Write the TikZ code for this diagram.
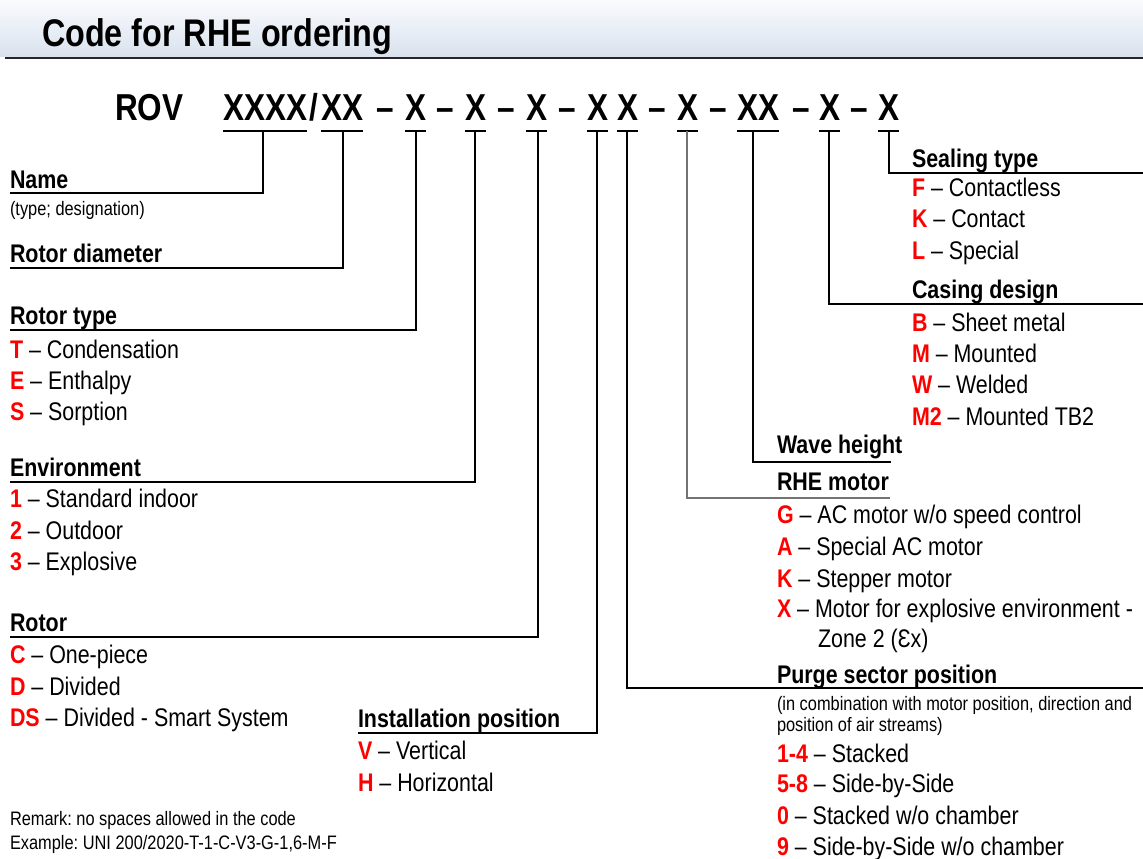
\documentclass[tikz,border=0pt]{standalone}
\usepackage{fontspec}
\setmainfont{Liberation Sans}[FakeStretch=0.84]
\frenchspacing
\definecolor{codered}{RGB}{255,0,0}
\definecolor{hdtop}{RGB}{250,251,253}
\definecolor{hdbot}{RGB}{216,226,238}
\newcommand{\redc}[1]{\textcolor{codered}{\bfseries #1}}
\tikzset{
 txt/.style={anchor=base west, inner sep=0pt, outer sep=0pt, font=\frenchspacing\fontsize{25.5}{30}\selectfont},
 head/.style={anchor=base west, inner sep=0pt, outer sep=0pt, font=\bfseries\fontsize{25.5}{30}\selectfont},
 small/.style={anchor=base west, inner sep=0pt, outer sep=0pt, font=\frenchspacing\fontsize{19.5}{23}\selectfont},
 codech/.style={anchor=base west, inner sep=0pt, outer sep=0pt, font=\bfseries\fontsize{37.5}{44}\selectfont},
 titletxt/.style={anchor=base west, inner sep=0pt, outer sep=0pt, font=\bfseries\fontsize{38.5}{44}\selectfont},
 conn/.style={line width=1.7pt, draw=black},
 connlight/.style={line width=1.5pt, draw=black!55},
 tick/.style={line width=1.3pt, draw=black},
 tickbold/.style={line width=2pt, draw=black},
}
\begin{document}
\begin{tikzpicture}[x=1pt,y=-1pt]
\useasboundingbox (0,0) rectangle (1143,859);
\fill[white] (0,0) rectangle (1143,859);
% header
\shade[top color=hdtop, bottom color=hdbot] (0,0) rectangle (1143,57);
\draw[line width=1.5pt, black!85] (5,58) -- (1143,58);
\node[titletxt] (title) at (42,47) {Code for RHE ordering};

% code row
\node[codech] (rov) at (115,120) {ROV};
\node[codech] (c1) at (223,120) {XXXX};
\node[codech] (sl) at (309.5,120) {/};
\node[codech] (c2) at (321,120) {XX};
\node[codech] (d1) at (376,120) {–};
\node[codech] (c3) at (405,120) {X};
\node[codech] (d2) at (436,120) {–};
\node[codech] (c4) at (465,120) {X};
\node[codech] (d3) at (497,120) {–};
\node[codech] (c5) at (526,120) {X};
\node[codech] (d4) at (558,120) {–};
\node[codech] (c6) at (587,120) {X};
\node[codech] (c7) at (617,120) {X};
\node[codech] (d5) at (648,120) {–};
\node[codech] (c8) at (677,120) {X};
\node[codech] (d6) at (709,120) {–};
\node[codech] (c9) at (737,120) {XX};
\node[codech] (d7) at (792,120) {–};
\node[codech] (c10) at (819,120) {X};
\node[codech] (d8) at (850,120) {–};
\node[codech] (c11) at (878,120) {X};

% connector start points
\coordinate (u1) at (263,131);
\coordinate (u2) at (343,131);
\coordinate (u3) at (416,131);
\coordinate (u4) at (475,131);
\coordinate (u5) at (538,131);
\coordinate (u6) at (597,131);
\coordinate (u7) at (627,131);
\coordinate (u8) at (687,131);
\coordinate (u9) at (753,131);
\coordinate (u10) at (829,131);
\coordinate (u11) at (889,131);

% underline ticks
\draw[tickbold] (c1.west |- u1) -- (c1.east |- u1);
\draw[tick] (c2.west |- u2) -- (c2.east |- u2);
\draw[tick] (c3.west |- u3) -- (c3.east |- u3);
\draw[tick] (c4.west |- u4) -- (c4.east |- u4);
\draw[tick] (c5.west |- u5) -- (c5.east |- u5);
\draw[tick] (c6.west |- u6) -- (c6.east |- u6);
\draw[tick] (c7.west |- u7) -- (c7.east |- u7);
\draw[tick] (c8.west |- u8) -- (c8.east |- u8);
\draw[tickbold] (c9.west |- u9) -- (c9.east |- u9);
\draw[tick] (c10.west |- u10) -- (c10.east |- u10);
\draw[tick] (c11.west |- u11) -- (c11.east |- u11);

% ---- left side ----
\node[head] (hname) at (10,188) {Name};
\node[small] (sname) at (10,215) {(type; designation)};
\coordinate (lname) at (10,193);

\node[head] (hdiam) at (10,262) {Rotor diameter};
\coordinate (ldiam) at (10,268);

\node[head] (htype) at (10,324) {Rotor type};
\coordinate (ltype) at (10,330);
\node[txt] (t1) at (10,358) {\redc{T} – Condensation};
\node[txt] (t2) at (10,389) {\redc{E} – Enthalpy};
\node[txt] (t3) at (10,420) {\redc{S} – Sorption};

\node[head] (henv) at (10,476) {Environment};
\coordinate (lenv) at (10,482);
\node[txt] (e1) at (10,507) {\redc{1} – Standard indoor};
\node[txt] (e2) at (10,539) {\redc{2} – Outdoor};
\node[txt] (e3) at (10,570) {\redc{3} – Explosive};

\node[head] (hrot) at (10,631) {Rotor};
\coordinate (lrot) at (10,637);
\node[txt] (r1) at (10,663) {\redc{C} – One-piece};
\node[txt] (r2) at (10,695) {\redc{D} – Divided};
\node[txt] (r3) at (10,726) {\redc{DS} – Divided - Smart System};

\node[head] (hinst) at (358,727) {Installation position};
\coordinate (linst) at (358,733);
\node[txt] (i1) at (358,759) {\redc{V} – Vertical};
\node[txt] (i2) at (358,791) {\redc{H} – Horizontal};

\node[small] (rem1) at (10,825) {Remark: no spaces allowed in the code};
\node[small] (rem2) at (10,849) {Example: UNI 200/2020-T-1-C-V3-G-1,6-M-F};

% ---- right side ----
\node[head] (hseal) at (912,167) {Sealing type};
\coordinate (lseal) at (1143,173);
\node[txt] (s1) at (912,196) {\redc{F} – Contactless};
\node[txt] (s2) at (912,227) {\redc{K} – Contact};
\node[txt] (s3) at (912,259) {\redc{L} – Special};

\node[head] (hcas) at (912,298) {Casing design};
\coordinate (lcas) at (1143,304);
\node[txt] (k1) at (912,331) {\redc{B} – Sheet metal};
\node[txt] (k2) at (912,362) {\redc{M} – Mounted};
\node[txt] (k3) at (912,393) {\redc{W} – Welded};
\node[txt] (k4) at (912,425) {\redc{M2} – Mounted TB2};

\node[head] (hwave) at (777,453) {Wave height};
\coordinate (lwave) at (891,462);

\node[head] (hmot) at (777,490) {RHE motor};
\coordinate (lmot) at (890,498);
\node[txt] (m1) at (777,523) {\redc{G} – AC motor w/o speed control};
\node[txt] (m2) at (777,555) {\redc{A} – Special AC motor};
\node[txt] (m3) at (777,587) {\redc{K} – Stepper motor};
\node[txt] (m4) at (777,617) {\redc{X} – Motor for explosive environment -};
\node[txt] (m5) at (818,647) {Zone 2 (Ɛx)};

\node[head] (hpur) at (777,683) {Purge sector position};
\coordinate (lpur) at (1143,688);
\node[small] (p0a) at (777,710) {(in combination with motor position, direction and};
\node[small] (p0b) at (777,731) {position of air streams)};
\node[txt] (p1) at (777,762) {\redc{1-4} – Stacked};
\node[txt] (p2) at (777,792) {\redc{5-8} – Side-by-Side};
\node[txt] (p3) at (777,824) {\redc{0} – Stacked w/o chamber};
\node[txt] (p4) at (777,855) {\redc{9} – Side-by-Side w/o chamber};

% ---- connectors ----
\draw[conn] (u1) |- (lname);
\draw[conn] (u2) |- (ldiam);
\draw[conn] (u3) |- (ltype);
\draw[conn] (u4) |- (lenv);
\draw[conn] (u5) |- (lrot);
\draw[conn] (u6) |- (linst);
\draw[conn] (u7) |- (lpur);
\draw[connlight] (u8) |- (lmot);
\draw[conn] (u9) |- (lwave);
\draw[conn] (u10) |- (lcas);
\draw[conn] (u11) |- (lseal);
\end{tikzpicture}
\end{document}
